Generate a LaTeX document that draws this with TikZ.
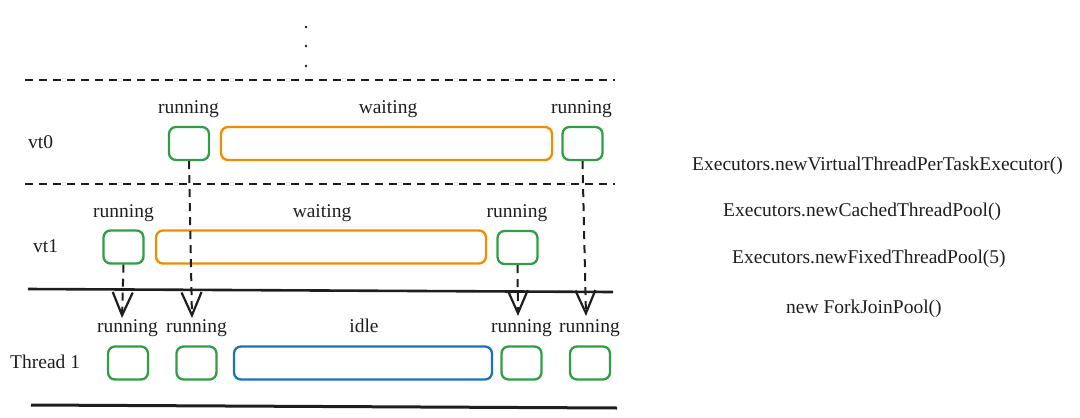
\documentclass[tikz,border=0pt]{standalone}
\usepackage{fontspec}
\setmainfont{Liberation Serif}
\usetikzlibrary{arrows.meta}
\definecolor{exgreen}{HTML}{2F9E44}
\definecolor{exorange}{HTML}{F08C00}
\definecolor{exblue}{HTML}{1971C2}
\definecolor{exblack}{HTML}{1E1E1E}
\tikzset{
  lbl/.style={font=\fontsize{19.5}{23}\selectfont, text=exblack, inner sep=0pt, anchor=base},
  side/.style={font=\fontsize{19.5}{23}\selectfont, text=exblack, inner sep=0pt, anchor=base west},
  stbox/.style={draw, line width=2.3pt, rounded corners=7pt, inner sep=0pt, minimum height=33pt},
  gbox/.style={stbox, draw=exgreen, minimum width=40pt},
  obox/.style={stbox, draw=exorange},
  bbox/.style={stbox, draw=exblue},
  sepdash/.style={draw=exblack, line width=2pt, dash pattern=on 8pt off 6pt},
  sepsolid/.style={draw=exblack, line width=2.6pt},
  flow/.style={draw=exblack, line width=2pt, dash pattern=on 8pt off 6pt,
    -{Straight Barb[length=23pt,width=20pt,line width=2.2pt]}},
}
\begin{document}
\begin{tikzpicture}[x=1pt,y=-1pt]
\useasboundingbox (0,0) rectangle (1080,418);
% dots
\fill[exblack] (306,27) circle (1.4pt) (306,46) circle (1.4pt) (306,66) circle (1.4pt);
% separators
\coordinate (s1a) at (25,80); \coordinate (s1b) at (615,80);
\coordinate (s2a) at (25,184); \coordinate (s2b) at (615,184);
\coordinate (s3a) at (28,289); \coordinate (s3b) at (613,292);
\coordinate (s4a) at (31,405); \coordinate (s4b) at (617,408);
\draw[sepdash] (s1a) -- (s1b);
\draw[sepdash] (s2a) -- (s2b);
\draw[sepsolid] (s3a) -- (s3b);
\draw[sepsolid, line width=3pt] (s4a) -- (s4b);
% row labels
\node[side] (lvt0) at (28,148) {vt0};
\node[side] (lvt1) at (33,252) {vt1};
\node[side] (lth) at (10,368) {Thread 1};
% vt0 row
\node[gbox] (v0a) at (189,143.5) {};
\node[obox, minimum width=331pt] (v0w) at (386.5,143.5) {};
\node[gbox] (v0b) at (582.5,143.5) {};
\node[lbl] (t0a) at (188.5,113) {running};
\node[lbl] (t0w) at (388,113) {waiting};
\node[lbl] (t0b) at (581.5,113) {running};
% vt1 row
\node[gbox] (v1a) at (123.5,247) {};
\node[obox, minimum width=330pt] (v1w) at (321,247) {};
\node[gbox] (v1b) at (517.5,247.5) {};
\node[lbl] (t1a) at (123.5,217) {running};
\node[lbl] (t1w) at (322,217) {waiting};
\node[lbl] (t1b) at (517,217) {running};
% thread row
\node[gbox] (h1) at (128,363) {};
\node[gbox] (h2) at (196.5,363) {};
\node[bbox, minimum width=258pt] (hi) at (363,363) {};
\node[gbox] (h3) at (521.5,363) {};
\node[gbox] (h4) at (590,363) {};
\node[lbl] (th1) at (127.5,332) {running};
\node[lbl] (th2) at (196.5,332) {running};
\node[lbl] (thi) at (364,332) {idle};
\node[lbl] (th3) at (521.5,332) {running};
\node[lbl] (th4) at (589.5,332) {running};
% arrows
\coordinate (e1) at (122,318);
\coordinate (e2) at (192,318);
\coordinate (e3) at (518,316);
\coordinate (e4) at (586,316);
\draw[flow] (v1a.south) -- (e1);
\draw[flow] (v0a.south) -- (e2);
\draw[flow] (v1b.south) -- (e3);
\draw[flow] (v0b.south) -- (e4);
% right texts
\node[side] (x1) at (692,170) {Executors.newVirtualThreadPerTaskExecutor()};
\node[side] (x2) at (723,216) {Executors.newCachedThreadPool()};
\node[side] (x3) at (732,263) {Executors.newFixedThreadPool(5)};
\node[side] (x4) at (786,313) {new ForkJoinPool()};
\end{tikzpicture}
\end{document}
